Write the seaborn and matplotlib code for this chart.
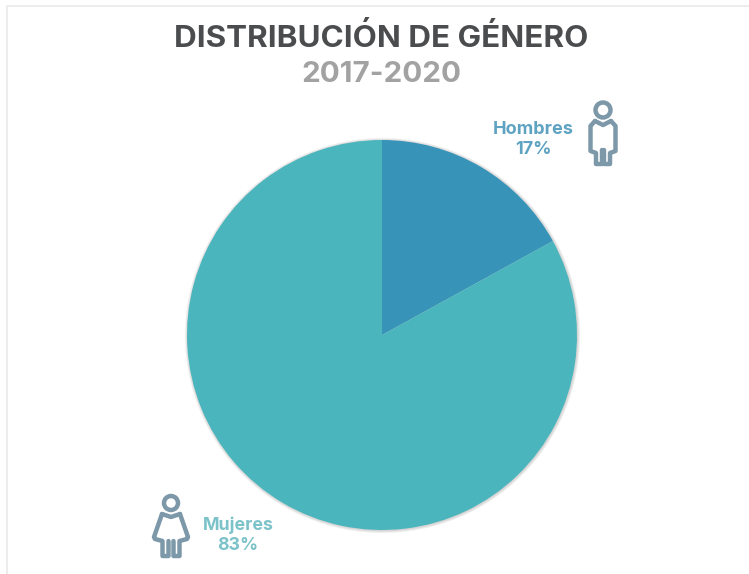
import matplotlib
matplotlib.use('Agg')
import matplotlib.pyplot as plt
from matplotlib.patches import Circle
import seaborn as sns

# Datos
generos = ['Hombres', 'Mujeres']
porcentajes = [17, 83]
colores = ['#3893B9', '#4AB5BC']
titulo = 'DISTRIBUCIÓN DE GÉNERO'
periodo = '2017-2020'

sns.set_theme(style='white')
plt.rcParams['font.family'] = ['Inter', 'DejaVu Sans']

W, H = 749, 574
fig = plt.figure(figsize=(W / 100, H / 100), dpi=100, facecolor='white')

# Capa en pixeles para textos, marco e iconos
capa = fig.add_axes([0, 0, 1, 1])
capa.set_xlim(0, W)
capa.set_ylim(H, 0)
capa.axis('off')

# Pastel
cx, cy, r = 382, 335, 195
ax = fig.add_axes([(cx - r) / W, (H - cy - r) / H, 2 * r / W, 2 * r / H])
ax.patch.set_alpha(0)
wedges, _ = ax.pie(porcentajes, colors=colores, startangle=90, counterclock=False, radius=1,
                   wedgeprops=dict(linewidth=0, edgecolor='none'))
ax.set_xlim(-1, 1)
ax.set_ylim(-1, 1)
for w in wedges:
    w.set_clip_on(False)

# Sombra suave alrededor del pastel
for extra in [0.5, 1.5, 2.5]:
    capa.add_patch(Circle((cx + 0.5, cy + 0.5), r + extra, color='#555555', alpha=0.09, lw=0, zorder=0))

# Marco
capa.plot([7, 7, W], [H, 6, 6], color='#ebe9e6', lw=1.2)

# Titulos
capa.text(381, 38, titulo, ha='center', va='center', fontsize=22.6, fontweight='bold', color='#4a4c4e')
capa.text(381, 75, periodo, ha='center', va='center', fontsize=21.3, fontweight='bold', color='#a2a2a2')

# Etiquetas
capa.text(533, 129, generos[0], ha='center', va='center', fontsize=13, fontweight='bold', color='#5fa3c2')
capa.text(533, 149, f'{porcentajes[0]}%', ha='center', va='center', fontsize=13, fontweight='bold', color='#5fa3c2')
capa.text(238, 525, generos[1], ha='center', va='center', fontsize=12.8, fontweight='bold', color='#7cc2c9')
capa.text(238, 546, f'{porcentajes[1]}%', ha='center', va='center', fontsize=12.8, fontweight='bold', color='#7cc2c9')

# Iconos
gris = '#7d98a8'
kw = dict(color=gris, lw=3.2, solid_joinstyle='round', solid_capstyle='round')

capa.add_patch(Circle((603, 110), 7.5, fill=False, ec=gris, lw=3.2))
hx = [595, 590.5, 590.5, 596, 596, 602, 602]
hy = [121, 126, 151, 153, 164, 164, 150]
capa.plot(hx, hy, **kw)
capa.plot([1206 - x for x in hx], hy, **kw)
capa.plot([595, 603, 611], [121, 125, 121], **kw)

capa.add_patch(Circle((171, 503), 7, fill=False, ec=gris, lw=3.2))
mx = [162, 154, 155, 162.5, 162.5, 168.5, 168.5]
my = [514, 537, 539, 541, 556, 556, 541]
capa.plot(mx, my, **kw)
capa.plot([342 - x for x in mx], my, **kw)
capa.plot([162, 171, 180], [514, 517, 514], **kw)

plt.savefig('out.png', dpi=100, facecolor='white')
